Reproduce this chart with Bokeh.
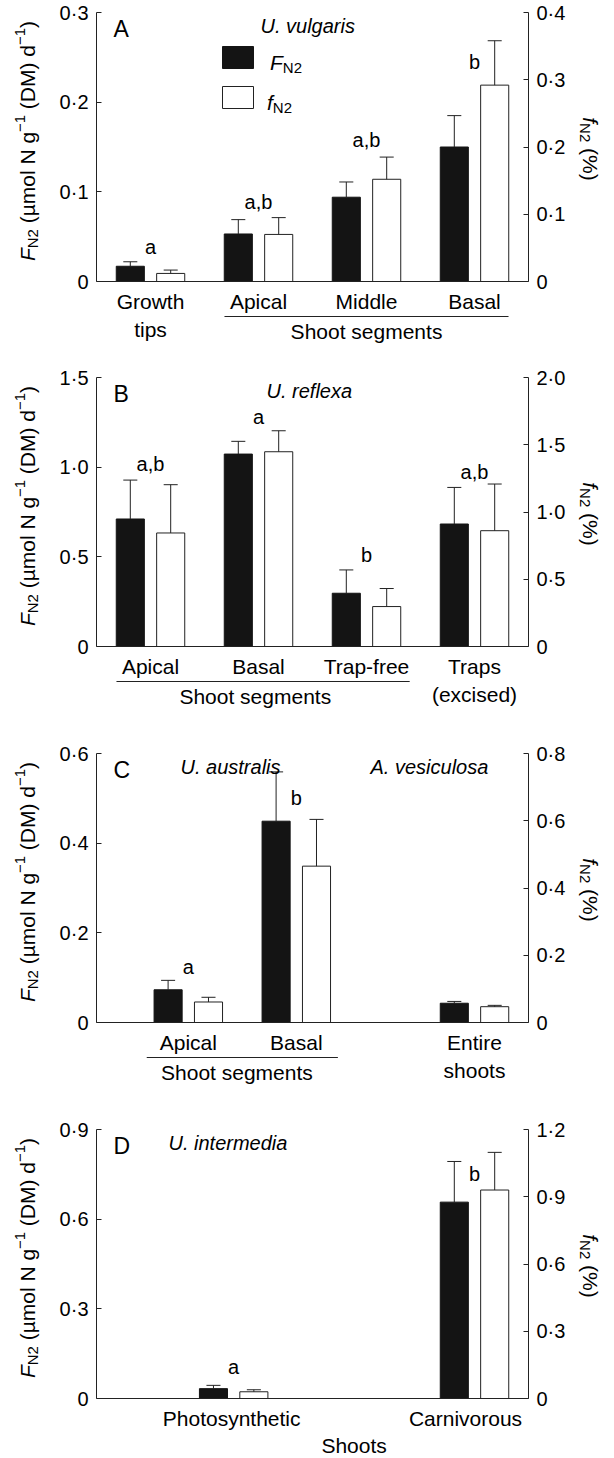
import math
from bokeh.plotting import figure
from bokeh.models import (Range1d, LinearAxis, FixedTicker, CustomJSTickFormatter,
                          Label, Arrow)
from bokeh.layouts import column
from bokeh.embed import file_html
from bokeh.resources import INLINE

FONT = "Liberation Sans"

# ---------------- data ----------------
# Panel A - U. vulgaris
A_labels = [["Growth", "tips"], ["Apical"], ["Middle"], ["Basal"]]
A_slots = [0, 1, 2, 3]
A_FN2 = [0.017, 0.053, 0.094, 0.150]
A_FN2_se = [0.005, 0.016, 0.017, 0.035]
A_fN2 = [0.012, 0.070, 0.152, 0.292]
A_fN2_se = [0.005, 0.025, 0.033, 0.066]
A_letters = ["a", "a,b", "a,b", "b"]
A_letter_y = [0.039, 0.089, 0.158, 0.245]
A_left_ticks = [0, 0.1, 0.2, 0.3]
A_right_ticks = [0, 0.1, 0.2, 0.3, 0.4]

# Panel B - U. reflexa
B_labels = [["Apical"], ["Basal"], ["Trap-free"], ["Traps", "(excised)"]]
B_slots = [0, 1, 2, 3]
B_FN2 = [0.711, 1.073, 0.297, 0.683]
B_FN2_se = [0.217, 0.071, 0.130, 0.204]
B_fN2 = [0.844, 1.448, 0.297, 0.861]
B_fN2_se = [0.359, 0.156, 0.134, 0.347]
B_letters = ["a,b", "a", "b", "a,b"]
B_letter_y = [1.018, 1.277, 0.512, 0.971]
B_left_ticks = [0, 0.5, 1.0, 1.5]
B_right_ticks = [0, 0.5, 1.0, 1.5, 2.0]

# Panel C - U. australis / A. vesiculosa
C_labels = [["Apical"], ["Basal"], ["Entire", "shoots"]]
C_slots = [0.35, 1.35, 3.0]
C_FN2 = [0.073, 0.449, 0.043]
C_FN2_se = [0.021, 0.110, 0.004]
C_fN2 = [0.061, 0.465, 0.047]
C_fN2_se = [0.014, 0.139, 0.004]
C_letters = ["a", "b", ""]
C_letter_y = [0.123, 0.500, 0.0]
C_left_ticks = [0, 0.2, 0.4, 0.6]
C_right_ticks = [0, 0.2, 0.4, 0.6, 0.8]

# Panel D - U. intermedia
D_labels = [["Photosynthetic"], ["Carnivorous"]]
D_slots = [0.77, 3.0]
D_FN2 = [0.033, 0.657]
D_FN2_se = [0.011, 0.136]
D_fN2 = [0.030, 0.930]
D_fN2_se = [0.009, 0.168]
D_letters = ["a", "b"]
D_letter_y = [0.106, 0.752]
D_left_ticks = [0, 0.3, 0.6, 0.9]
D_right_ticks = [0, 0.3, 0.6, 0.9, 1.2]

# --------------- helpers ---------------
W = {' ': 278, '(': 333, ')': 333, 'µ': 562, 'm': 833, 'o': 556, 'l': 222,
     'N': 722, 'g': 556, 'D': 722, 'M': 833, 'd': 556, '−': 584, '1': 556,
     '2': 556, 'F': 611, 'f': 278, '%': 889}


def tw(s, size):
    return sum(W.get(c, 556) for c in s) * size / 1000.0


def label(p, text, x, y, dx=0, dy=0, size=20, style="normal", align="left",
          baseline="alphabetic", angle=0.0):
    p.add_layout(Label(x=x, y=y, x_offset=dx, y_offset=dy, text=text,
                       text_font=FONT, text_font_size=f"{size}px",
                       text_font_style=style, text_align=align,
                       text_baseline=baseline, angle=angle,
                       text_color="black"))


def rich(p, pieces, x, y, dx, dy, direction, center=True):
    """Lay out text pieces (text, size, style, baseline shift) one after another."""
    total = sum(tw(t, s) for t, s, _, _ in pieces)
    a = -total / 2.0 if center else 0.0
    for t, s, style, shift in pieces:
        body = t.lstrip(" ")
        a += tw(t[:len(t) - len(body)], s)          # leading spaces as advance
        if direction == "h":
            ox, oy, ang = dx + a, dy + shift, 0.0
        elif direction == "up":
            ox, oy, ang = dx - shift, dy + a, math.pi / 2
        else:
            ox, oy, ang = dx + shift, dy - a, -math.pi / 2
        label(p, body, x, y, ox, oy, size=s, style=style, angle=ang)
        a += tw(body, s)


fmt_code = "return tick == 0 ? '0' : tick.toFixed(1).replace('.', '\u00b7');"

FRAME_W, FRAME_H = 432, 269
XR = (-0.5, 3.5)
PX = FRAME_W / (XR[1] - XR[0])      # pixels per category unit
LEFT_PAD, RIGHT_PAD = 96, 78        # canvas space left/right of the axes
BAR_W, OFF = 0.26, 0.187
CAT_SIZE = 21


def panel(letter, titles, labels, slots, F, Fse, f, fse, letters, letter_y,
          lticks, rticks, group, top, bottom, legend=False, label_dx=None):
    ymax, rmax = lticks[-1], rticks[-1]
    k, kr = ymax / FRAME_H, rmax / FRAME_H
    p = figure(width=LEFT_PAD + FRAME_W + RIGHT_PAD,
               height=top + FRAME_H + bottom,
               x_range=Range1d(XR[0] - LEFT_PAD / PX, XR[1] + RIGHT_PAD / PX),
               y_range=Range1d(-bottom * k, ymax + top * k),
               output_backend="svg", toolbar_location=None,
               min_border=0, min_border_left=0, min_border_right=0,
               min_border_top=0, min_border_bottom=0)
    p.extra_y_ranges = {"r": Range1d(-bottom * kr, rmax + top * kr)}
    p.xgrid.visible = False
    p.ygrid.visible = False
    p.outline_line_color = None
    p.background_fill_color = "white"
    p.border_fill_color = "white"

    # bottom axis: a plain line at y = 0
    xa = p.xaxis[0]
    xa.fixed_location = 0
    xa.bounds = XR
    xa.ticker = FixedTicker(ticks=[])
    xa.major_tick_line_color = None
    xa.minor_tick_line_color = None
    xa.major_label_text_font_size = "0px"
    xa.axis_line_color = "#222222"

    def style_axis(ax, ticks, loc):
        ax.fixed_location = loc
        ax.bounds = (ticks[0], ticks[-1])
        ax.ticker = FixedTicker(ticks=ticks)
        ax.formatter = CustomJSTickFormatter(code=fmt_code)
        ax.major_tick_in = 5
        ax.major_tick_out = 0
        ax.minor_tick_line_color = None
        ax.major_label_text_font = FONT
        ax.major_label_text_font_size = "20px"
        ax.major_label_text_color = "black"
        ax.major_label_standoff = 8
        ax.axis_line_color = "#222222"
        ax.major_tick_line_color = "#222222"

    style_axis(p.yaxis[0], lticks, XR[0])
    ra = LinearAxis(y_range_name="r")
    style_axis(ra, rticks, XR[1])
    p.add_layout(ra, "right")

    xb = [s - OFF for s in slots]
    xw = [s + OFF for s in slots]
    p.vbar(x=xb, width=BAR_W, top=F, bottom=0, fill_color="#141414",
           line_color="#141414", line_width=1)
    p.vbar(x=xw, width=BAR_W, top=f, bottom=0, fill_color="white",
           line_color="#222222", line_width=1, y_range_name="r")
    cap = 0.065
    Fe = [v + e for v, e in zip(F, Fse)]
    fe = [v + e for v, e in zip(f, fse)]
    p.segment(x0=xb, y0=F, x1=xb, y1=Fe, line_color="#222222", line_width=1)
    p.segment(x0=[x - cap for x in xb], y0=Fe, x1=[x + cap for x in xb], y1=Fe,
              line_color="#222222", line_width=1)
    p.segment(x0=xw, y0=f, x1=xw, y1=fe, line_color="#222222", line_width=1,
              y_range_name="r")
    p.segment(x0=[x - cap for x in xw], y0=fe, x1=[x + cap for x in xw], y1=fe,
              line_color="#222222", line_width=1, y_range_name="r")

    # significance letters
    for s, t, yy in zip(slots, letters, letter_y):
        if t:
            label(p, t, s, yy, size=20, align="center", baseline="middle")

    # category labels
    if label_dx is None:
        label_dx = [0] * len(slots)
    for s, lines, ldx in zip(slots, labels, label_dx):
        for i, ln in enumerate(lines):
            label(p, ln, s, 0, dx=ldx, dy=-20 - 28 * i, size=CAT_SIZE,
                  align="center", baseline="middle")

    # group label + underline
    gtext, g0, g1, gx, has_line = group
    if has_line:
        p.add_layout(Arrow(end=None, start=None, x_start=g0, x_end=g1,
                           y_start=-35 * k, y_end=-35 * k,
                           line_color="#222222", line_width=1))
        label(p, gtext, gx, 0, dy=-50, size=CAT_SIZE, align="center",
              baseline="middle")
    else:
        label(p, gtext, gx, 0, dy=-47, size=CAT_SIZE, align="center",
              baseline="middle")

    # panel letter and titles
    label(p, letter, XR[0], ymax, dx=17, dy=-16.5, size=23)
    for t, off in titles:
        label(p, t, XR[0], ymax, dx=off, dy=-13.5, size=20, style="italic")

    # axis titles
    left_pieces = [("F", 21, "italic", 0), ("N2", 15, "normal", -5),
                   (" (µmol N g", 21, "normal", 0), ("−1", 15, "normal", 8),
                   (" (DM) d", 21, "normal", 0), ("−1", 15, "normal", 8),
                   (")", 21, "normal", 0)]
    rich(p, left_pieces, XR[0], ymax / 2, -69, 6, "up")
    right_pieces = [("f", 21, "italic", 0), ("N2", 15, "normal", -5),
                    (" (%)", 21, "normal", 0)]
    rich(p, right_pieces, XR[1], ymax / 2, 62, -2, "down")

    if legend:
        lx = XR[0] + 141.5 / PX
        yF, yf = ymax - 45 * k, ymax - 85 * k
        p.rect(x=[lx], y=[yF], width=31, height=22, width_units="screen",
               height_units="screen", fill_color="#141414", line_color="#141414")
        p.rect(x=[lx], y=[yf], width=31, height=22, width_units="screen",
               height_units="screen", fill_color="white", line_color="#222222")
        rich(p, [("F", 21, "italic", 0), ("N2", 15, "normal", -5)],
             lx, yF, 32, -5, "h", center=False)
        rich(p, [("f", 21, "italic", 0), ("N2", 15, "normal", -5)],
             lx, yf, 29, -5, "h", center=False)
    return p


pA = panel("A", [("U. vulgaris", 164)], A_labels, A_slots, A_FN2, A_FN2_se,
           A_fN2, A_fN2_se, A_letters, A_letter_y, A_left_ticks, A_right_ticks,
           ("Shoot segments", 1 - 0.315, 3 + 0.315, 2.0, True), 12, 82,
           legend=True)
pB = panel("B", [("U. reflexa", 170)], B_labels, B_slots, B_FN2, B_FN2_se,
           B_fN2, B_fN2_se, B_letters, B_letter_y, B_left_ticks, B_right_ticks,
           ("Shoot segments", 0 - 0.315, 2 + 0.40, 0.97, True), 14, 92)
pC = panel("C", [("U. australis", 84), ("A. vesiculosa", 274)], C_labels,
           C_slots, C_FN2, C_FN2_se, C_fN2, C_fN2_se, C_letters, C_letter_y,
           C_left_ticks, C_right_ticks,
           ("Shoot segments", C_slots[0] - 0.385, C_slots[1] + 0.385,
            (C_slots[0] + C_slots[1]) / 2 - 0.05, True), 15, 92)
pD = panel("D", [("U. intermedia", 72)], D_labels, D_slots, D_FN2, D_FN2_se,
           D_fN2, D_fN2_se, D_letters, D_letter_y, D_left_ticks, D_right_ticks,
           ("Shoots", 0, 0, (D_slots[0] + D_slots[1]) / 2, False), 15, 58,
           label_dx=[-2, -9])

layout = column(pA, pB, pC, pD, spacing=0)
open("out.html", "w").write(file_html(layout, INLINE))
